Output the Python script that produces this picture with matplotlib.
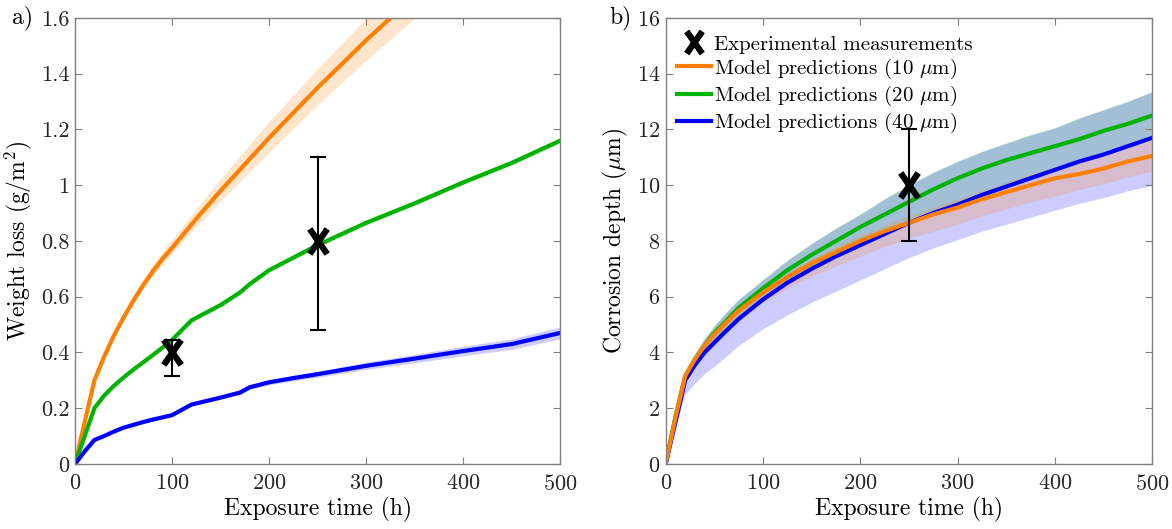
import matplotlib
matplotlib.use("Agg")
import matplotlib.pyplot as plt
from matplotlib.lines import Line2D
from matplotlib.path import Path
import numpy as np

plt.rcParams['font.family'] = 'serif'
plt.rcParams['font.serif'] = ['cmr10']
plt.rcParams['mathtext.fontset'] = 'cm'
plt.rcParams['axes.unicode_minus'] = False
plt.rcParams['axes.formatter.use_mathtext'] = True

# ---------------- Data: panel a (weight loss) ----------------
t_a10 = [0, 10, 20, 30, 40, 50, 60, 70, 80, 90, 100, 125, 150, 175, 200, 225, 250, 275, 300,
         350, 400, 450, 500]
wl_10 = [0, 0.15, 0.30, 0.385, 0.46, 0.525, 0.585, 0.64, 0.69, 0.735, 0.775, 0.88, 0.98, 1.075,
         1.17, 1.26, 1.35, 1.435, 1.52, 1.68, 1.84, 2.00, 2.15]
wl_10_hw = [0, 0.002, 0.005, 0.007, 0.009, 0.012, 0.014, 0.017, 0.019, 0.022, 0.025, 0.032, 0.04,
            0.047, 0.055, 0.06, 0.065, 0.07, 0.075, 0.085, 0.095, 0.105, 0.115]

t_a = [0, 10, 20, 30, 40, 50, 60, 70, 80, 90, 100, 120, 150, 170, 180, 200, 225, 250, 275, 300,
       350, 400, 450, 500]
wl_20 = [0, 0.10, 0.20, 0.245, 0.28, 0.31, 0.338, 0.364, 0.39, 0.417, 0.445, 0.515, 0.57, 0.615,
         0.645, 0.695, 0.74, 0.785, 0.825, 0.865, 0.935, 1.01, 1.08, 1.16]
wl_20_hw = [0, 0.001, 0.002, 0.002, 0.003, 0.003, 0.003, 0.004, 0.004, 0.004, 0.004, 0.004, 0.005,
            0.005, 0.005, 0.006, 0.006, 0.006, 0.007, 0.007, 0.007, 0.008, 0.008, 0.009]
wl_40 = [0, 0.045, 0.086, 0.10, 0.116, 0.13, 0.14, 0.15, 0.159, 0.167, 0.175, 0.213, 0.238, 0.256,
         0.275, 0.293, 0.308, 0.322, 0.337, 0.352, 0.378, 0.405, 0.43, 0.47]
wl_40_hw = [0, 0.001, 0.002, 0.003, 0.003, 0.003, 0.004, 0.004, 0.004, 0.004, 0.004, 0.005, 0.006,
            0.007, 0.008, 0.009, 0.010, 0.011, 0.012, 0.013, 0.015, 0.017, 0.019, 0.021]

exp_t_a = [100, 250]
exp_wl = [0.40, 0.80]
exp_wl_lo = [0.085, 0.32]
exp_wl_hi = [0.045, 0.30]

# ---------------- Data: panel b (corrosion depth) ----------------
t_b = [0, 10, 20, 30, 40, 50, 60, 75, 100, 125, 150, 175, 200, 225, 250, 275, 300, 325, 350,
       375, 400, 425, 450, 475, 500]
cd_10 = [0, 1.65, 3.15, 3.75, 4.25, 4.65, 5.0, 5.5, 6.15, 6.7, 7.2, 7.6, 8.0, 8.35, 8.65, 8.95,
         9.2, 9.5, 9.75, 10.0, 10.25, 10.4, 10.6, 10.85, 11.05]
cd_10_lo = [0, 1.55, 3.0, 3.55, 4.0, 4.4, 4.7, 5.2, 5.8, 6.3, 6.75, 7.1, 7.45, 7.8, 8.1, 8.35,
            8.6, 8.9, 9.15, 9.4, 9.6, 9.85, 10.05, 10.3, 10.5]
cd_10_hi = [0, 1.75, 3.25, 3.9, 4.4, 4.8, 5.15, 5.7, 6.3, 6.85, 7.35, 7.8, 8.2, 8.55, 8.9, 9.2,
            9.5, 9.8, 10.1, 10.4, 10.65, 10.9, 11.15, 11.45, 11.7]
cd_20 = [0, 1.7, 3.15, 3.75, 4.25, 4.7, 5.05, 5.6, 6.3, 6.95, 7.5, 8.0, 8.5, 8.95, 9.4, 9.85,
         10.25, 10.6, 10.9, 11.15, 11.4, 11.65, 11.95, 12.2, 12.5]
cd_20_lo = [0, 1.55, 3.05, 3.6, 4.05, 4.4, 4.75, 5.25, 5.95, 6.55, 7.05, 7.5, 7.9, 8.3, 8.7,
            9.05, 9.35, 9.7, 10.0, 10.3, 10.6, 10.9, 11.15, 11.45, 11.75]
cd_20_hi = [0, 1.82, 3.32, 3.97, 4.52, 4.97, 5.37, 5.92, 6.62, 7.32, 7.92, 8.47, 8.97, 9.52,
            10.02, 10.47, 10.87, 11.22, 11.52, 11.82, 12.07, 12.42, 12.72, 13.02, 13.37]
cd_40 = [0, 1.5, 3.0, 3.55, 4.0, 4.35, 4.7, 5.2, 5.9, 6.5, 7.0, 7.45, 7.85, 8.25, 8.65, 9.0,
         9.3, 9.65, 9.95, 10.25, 10.55, 10.85, 11.1, 11.4, 11.7]
cd_40_lo = [0, 1.3, 2.5, 2.9, 3.25, 3.5, 3.8, 4.25, 4.85, 5.35, 5.8, 6.2, 6.6, 7.0, 7.4, 7.75,
            8.05, 8.35, 8.6, 8.85, 9.1, 9.35, 9.55, 9.8, 10.0]
cd_40_hi = [0, 1.8, 3.3, 3.95, 4.5, 4.95, 5.35, 5.9, 6.6, 7.3, 7.9, 8.45, 8.95, 9.5, 10.0,
            10.45, 10.85, 11.2, 11.5, 11.8, 12.05, 12.4, 12.7, 13.0, 13.35]

exp_t_b = [250]
exp_cd = [10.0]
exp_cd_err = [2.0]

c10 = '#ff7f00'
c20 = '#00b300'
c40 = '#0000ff'

# tall X marker, like the reference
xmark = Path([(-0.7, -1), (0.7, 1), (-0.7, 1), (0.7, -1)],
             [Path.MOVETO, Path.LINETO, Path.MOVETO, Path.LINETO])

fig = plt.figure(figsize=(11.72, 5.29), dpi=100)
axa = fig.add_axes([0.064, 0.123, 0.414, 0.843])
axb = fig.add_axes([0.568, 0.123, 0.415, 0.843])

def style(ax):
    ax.tick_params(direction='in', top=True, right=True, labelsize=16,
                   color='#808080', length=5, labelcolor='#262626')
    ax.tick_params(axis='y', pad=4)
    ax.tick_params(axis='x', pad=7)
    for s in ax.spines.values():
        s.set_color('#808080')
        s.set_linewidth(1.0)

# Panel a
axa.fill_between(t_a10, np.array(wl_10) - np.array(wl_10_hw), np.array(wl_10) + np.array(wl_10_hw),
                 color=c10, alpha=0.2, lw=0)
axa.fill_between(t_a, np.array(wl_20) - np.array(wl_20_hw), np.array(wl_20) + np.array(wl_20_hw),
                 color=c20, alpha=0.2, lw=0)
axa.fill_between(t_a, np.array(wl_40) - np.array(wl_40_hw), np.array(wl_40) + np.array(wl_40_hw),
                 color=c40, alpha=0.2, lw=0)
axa.plot(t_a10, wl_10, color=c10, lw=3)
axa.plot(t_a, wl_20, color=c20, lw=3)
axa.plot(t_a, wl_40, color=c40, lw=3)
axa.errorbar(exp_t_a, exp_wl, yerr=[exp_wl_lo, exp_wl_hi], fmt='none', ecolor='black',
             elinewidth=1.5, capsize=6, capthick=1.5)
axa.plot(exp_t_a, exp_wl, ls='none', marker=xmark, ms=18, mew=4.5, color='black')
axa.set_xlim(0, 500)
axa.set_ylim(0, 1.6)
axa.set_xticks([0, 100, 200, 300, 400, 500])
axa.set_yticks([0, 0.2, 0.4, 0.6, 0.8, 1.0, 1.2, 1.4, 1.6])
axa.set_yticklabels(['0', '0.2', '0.4', '0.6', '0.8', '1', '1.2', '1.4', '1.6'])
axa.set_xlabel('Exposure time (h)', fontsize=17, labelpad=2)
axa.set_ylabel('Weight loss (g/m$^2$)', fontsize=17, labelpad=5)
style(axa)

# Panel b
axb.fill_between(t_b, cd_20_lo, cd_20_hi, color=c20, alpha=0.2, lw=0)
axb.fill_between(t_b, cd_40_lo, cd_40_hi, color=c40, alpha=0.2, lw=0)
axb.fill_between(t_b, cd_10_lo, cd_10_hi, color=c10, alpha=0.2, lw=0)
axb.plot(t_b, cd_20, color=c20, lw=3)
axb.plot(t_b, cd_40, color=c40, lw=3)
axb.plot(t_b, cd_10, color=c10, lw=3)
axb.errorbar(exp_t_b, exp_cd, yerr=exp_cd_err, fmt='none', ecolor='black',
             elinewidth=1.5, capsize=6, capthick=1.5)
axb.plot(exp_t_b, exp_cd, ls='none', marker=xmark, ms=18, mew=4.5, color='black')
axb.set_xlim(0, 500)
axb.set_ylim(0, 16)
axb.set_xticks([0, 100, 200, 300, 400, 500])
axb.set_yticks([0, 2, 4, 6, 8, 10, 12, 14, 16])
axb.set_xlabel('Exposure time (h)', fontsize=17, labelpad=2)
axb.set_ylabel(r'Corrosion depth ($\mu$m)', fontsize=17, labelpad=5)
style(axb)

handles = [
    Line2D([], [], ls='none', marker=xmark, ms=16, mew=4.5, color='black'),
    Line2D([], [], color=c10, lw=3),
    Line2D([], [], color=c20, lw=3),
    Line2D([], [], color=c40, lw=3),
]
labels = ['Experimental measurements',
          r'Model predictions (10 $\mu$m)',
          r'Model predictions (20 $\mu$m)',
          r'Model predictions (40 $\mu$m)']
axb.legend(handles, labels, loc='upper left', frameon=False, fontsize=15,
           handlelength=1.6, handletextpad=0.15, labelspacing=0.15,
           borderaxespad=0.0, borderpad=0.0, bbox_to_anchor=(0.024, 0.962))

fig.text(0.010, 0.966, 'a)', fontsize=17, va='center')
fig.text(0.520, 0.966, 'b)', fontsize=17, va='center')

fig.savefig('out.png', dpi=100)
